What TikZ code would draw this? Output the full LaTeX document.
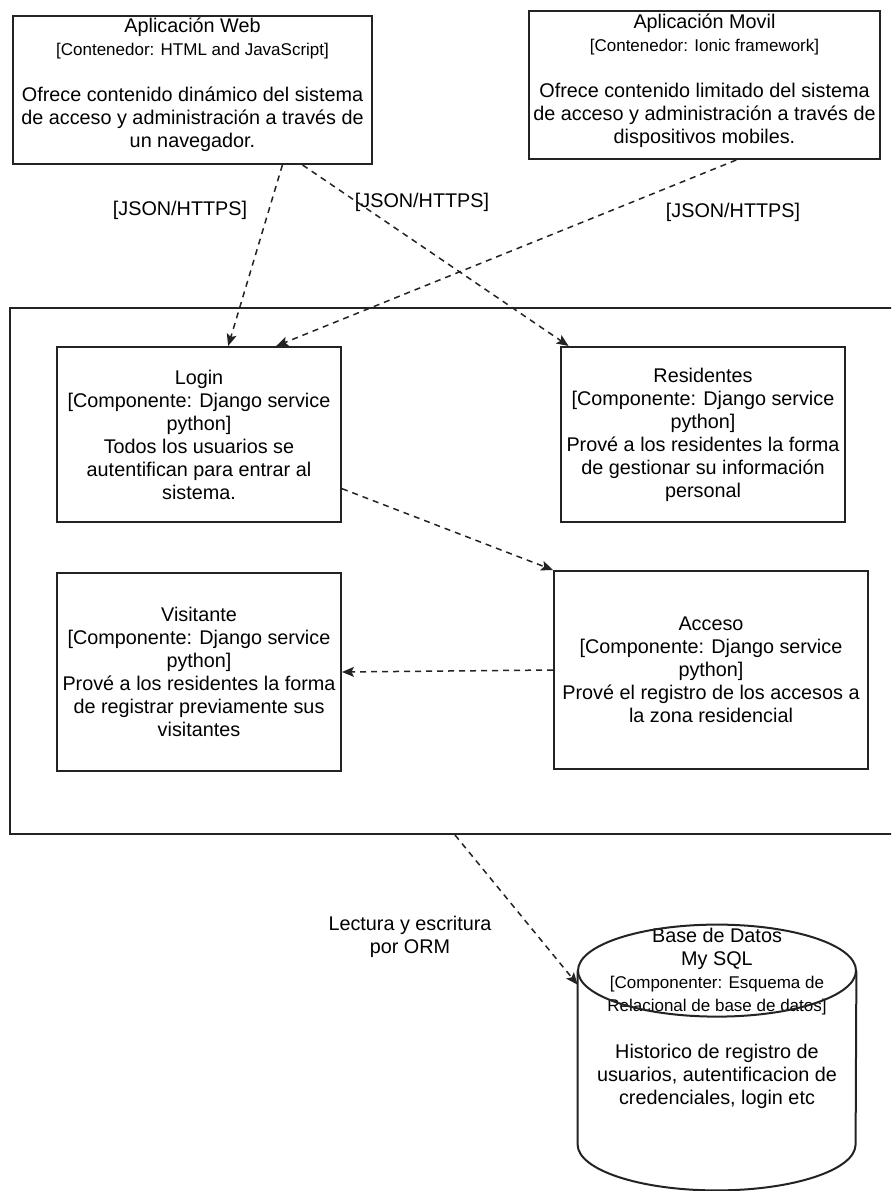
\documentclass[tikz,border=0pt]{standalone}
\usepackage{fontspec}
\setmainfont{Liberation Sans}
\usetikzlibrary{arrows.meta,positioning,calc}
\definecolor{ln}{RGB}{35,35,35}
\newcommand\subfnt{\fontsize{8.5}{11.5}\selectfont}

\begin{document}
\begin{tikzpicture}[x=0.5pt,y=-0.5pt,node distance=0pt,
  box/.style={rectangle,draw=ln,line width=1pt,align=center,inner sep=0pt,
              font=\fontsize{9.9}{11.5}\selectfont},
  tag/.style={inner sep=0pt,align=center,font=\fontsize{9.9}{11.5}\selectfont},
  link/.style={draw=ln,line width=0.75pt,dash pattern=on 3pt off 2.5pt,
               -{Stealth[length=6pt,width=5pt,inset=1.3pt]}}]

  \useasboundingbox (0,0) rectangle (891,1191);
  \clip (0,0) rectangle (891,1191);

  % containers
  \node (web) [box,minimum width=179.5pt,minimum height=74pt,
    label={[tag,anchor=north,yshift=-1.5pt]north:Aplicación Web\\
      {\subfnt[Contenedor: HTML and JavaScript]}\\[11.5pt]
      Ofrece contenido dinámico del sistema\\
      de acceso y administración a través de\\
      un navegador.}] at (192.5,90) {};
  \node (movil) [box,minimum width=175.5pt,minimum height=74pt,
    label={[tag,anchor=north,yshift=-2pt]north:Aplicación Movil\\
      {\subfnt[Contenedor: Ionic framework]}\\[11.5pt]
      Ofrece contenido limitado del sistema\\
      de acceso y administración a través de\\
      dispositivos mobiles.}] at (704.5,85) {};

  % system boundary
  \node (sys) [box,minimum width=445pt,minimum height=263pt] at (455,571) {};

  % components
  \node (login) [box,minimum width=142pt,minimum height=87.5pt] at (199,434.5)
    {Login\\{[}Componente: Django service\\python]\\Todos los usuarios se\\
     autentifican para entrar al\\sistema.};
  \node (res) [box,minimum width=142pt,minimum height=87.5pt,right=109pt of login]
    {Residentes\\{[}Componente: Django service\\python]\\
     Prové a los residentes la forma\\de gestionar su información\\personal};
  \node (visit) [box,minimum width=142pt,minimum height=99pt,below=24.5pt of login]
    {Visitante\\{[}Componente: Django service\\python]\\
     Prové a los residentes la forma\\de registrar previamente sus\\visitantes};
  \node (acceso) [box,minimum width=157pt,minimum height=99pt] at (711,670)
    {Acceso\\{[}Componente: Django service\\python]\\
     Prové el registro de los accesos a\\la zona residencial};

  % database
  \node (db) [inner sep=0pt,minimum width=139pt,minimum height=132.5pt,
    label={[tag,anchor=north,yshift=-1.5pt]north:Base de Datos\\My SQL\\
      {\subfnt[Componenter: Esquema de}\\
      {\subfnt Relacional de base de datos]}\\[12pt]
      Historico de registro de\\usuarios, autentificacion de\\
      credenciales, login etc}] at (717,1057.5) {};
  \draw[ln,line width=1pt] ([yshift=-23pt]db.north) ellipse [x radius=69.5pt,y radius=23pt];
  \draw[ln,line width=1pt] ([yshift=-23pt]db.north west) -- ([yshift=23pt]db.south west)
    arc[start angle=180,end angle=360,x radius=69.5pt,y radius=23pt]
    -- ([yshift=-23pt]db.north east);

  % connectors
  \draw[link] ($(web.south west)!0.749!(web.south east)$)
    -- ($(login.north west)!0.602!(login.north east)$);
  \draw[link] ($(web.south west)!0.805!(web.south east)$)
    -- ($(res.north west)!0.03!(res.north east)$);
  \draw[link] ($(movil.south west)!0.59!(movil.south east)$)
    -- ($(login.north west)!0.77!(login.north east)$);
  \draw[link] ($(login.north east)!0.806!(login.south east)$) -- (acceso.north west);
  \draw[link] (acceso.west) -- (visit.east);
  \draw[link] (sys.south) -- ($(db.north west)!0.226!(db.south west)$);

  % connector labels
  \node (jsonweb) [tag] at (180,210) {[JSON/HTTPS]};
  \node (jsonres) [tag] at (422,202) {[JSON/HTTPS]};
  \node (jsonmov) [tag] at (733,212) {[JSON/HTTPS]};
  \node (orm) [tag] at (410,937) {Lectura y escritura\\por ORM};
\end{tikzpicture}
\end{document}
